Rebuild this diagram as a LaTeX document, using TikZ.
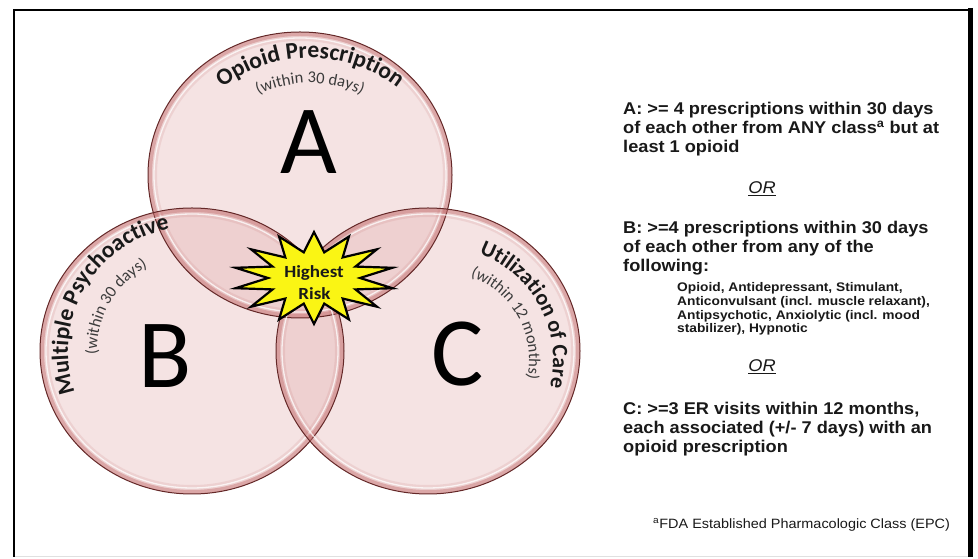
\documentclass[tikz,border=0pt]{standalone}
\usepackage{fontspec}
\setmainfont{Liberation Sans}
\newfontfamily\carl{Carlito}
\usetikzlibrary{shapes.geometric,decorations.text}

\definecolor{vfill}{RGB}{225,165,165}
\definecolor{vrim}{RGB}{195,110,110}
\definecolor{vline}{RGB}{100,40,40}
\definecolor{staryel}{RGB}{250,245,20}
\definecolor{txt}{RGB}{25,25,25}

\newcommand{\vtitle}{\carl\bfseries\fontsize{23.5}{24}\selectfont}
\newcommand{\vtitlec}{\carl\bfseries\fontsize{22}{24}\selectfont}
\newcommand{\vsub}{\carl\fontsize{16.5}{20}\selectfont}

\tikzset{
  rtxt/.style={anchor=base west, inner sep=0, text=txt, font=\bfseries\fontsize{17}{20}\selectfont, xscale=1.07},
  stxt/.style={anchor=base west, inner sep=0, text=txt, font=\bfseries\fontsize{12.5}{14}\selectfont, xscale=1.1},
  ortxt/.style={anchor=base, inner sep=0, text=txt, font=\itshape\fontsize{17}{20}\selectfont, xscale=1.07},
  bigletter/.style={inner sep=0, text=black, font=\carl\fontsize{98}{98}\selectfont},
  risk/.style={anchor=base, inner sep=0, text=txt, font=\carl\bfseries\fontsize{17}{17}\selectfont, xscale=1.12},
  arctitle/.style={decorate, decoration={text along path, text align=center, text color=txt}},
}

\begin{document}
\begin{tikzpicture}[x=1pt,y=1pt]
\useasboundingbox (0,0) rectangle (978,559);
\fill[white] (0,0) rectangle (978,559);

% frame
\draw[line width=1pt, black!12] (14,2) -- (970,2);
\draw[line width=2.5pt] (14,2) -- (14,549) -- (970,549);
\draw[line width=5pt] (970,551) -- (970,2);

% circle fills
\foreach \x/\y in {300/384, 192/208, 428/208}
  \fill[vfill, fill opacity=0.3] (\x,\y) ellipse[x radius=152pt, y radius=143pt];

% rims
\foreach \x/\y in {300/384, 192/208, 428/208}{
  \begin{scope}
    \clip (\x,\y) ellipse[x radius=152pt, y radius=143pt];
    \draw[vrim, line width=18pt, opacity=0.15] (\x,\y) ellipse[x radius=152pt, y radius=143pt];
    \draw[vrim, line width=8pt, opacity=0.42] (\x,\y) ellipse[x radius=152pt, y radius=143pt];
  \end{scope}
  \draw[white, line width=1.3pt, opacity=0.75] (\x,\y) ellipse[x radius=146pt, y radius=137pt];
  \draw[vline, line width=1pt] (\x,\y) ellipse[x radius=152pt, y radius=143pt];
}

% big letters
\node[bigletter] (lA) at (309,417) {A};
\node[bigletter] (lB) at (165,203) {B};
\node[bigletter] (lC) at (458,205) {C};

% curved titles
\path[arctitle, decoration={text={|\vtitle|Opioid Prescription}}]
  (186.2,429.5) arc[start angle=150, end angle=30, radius=143];
\path[arctitle, decoration={text={|\vsub\color{txt!85}|(within 30 days)}}]
  (207.8,417) arc[start angle=150, end angle=30, radius=118];

\path[arctitle, decoration={text={|\vtitle|Multiple Psychoactive}}]
  (90.4,136.9) arc[start angle=215, end angle=85, radius=124];
\path[arctitle, decoration={text={|\vsub\color{txt!85}|(within 30 days)}}]
  (114.2,153.5) arc[start angle=215, end angle=85, radius=95];

\path[arctitle, decoration={text={|\vtitlec|Utilization of Care}}]
  (463.5,309.5) arc[start angle=78, end angle=-22, radius=113];
\path[arctitle, decoration={text={|\vsub\color{txt!85}|(within 12 months)}}]
  (455.5,286.6) arc[start angle=80, end angle=-22, radius=89];

% highest risk burst
\node[star, star points=14, star point ratio=1.75, minimum size=92pt, inner sep=0,
      xscale=1.75, draw=black, line width=2.2pt, fill=staryel] (burst) at (314,281) {};
\node[risk] (hr1) at (314,281) {Highest};
\node[risk] (hr2) at (314.5,259) {Risk};

% right-hand text
\node[rtxt] (a1) at (623,444) {A: >= 4 prescriptions within 30 days};
\node[rtxt] (a2) at (623,425) {of each other from ANY class\textsuperscript{a} but at};
\node[rtxt] (a3) at (623,406) {least 1 opioid};
\node[ortxt] (or1) at (762,365) {\underline{OR}};
\node[rtxt] (b1) at (623,325) {B: >=4 prescriptions within 30 days};
\node[rtxt] (b2) at (623,306) {of each other from any of the};
\node[rtxt] (b3) at (623,287) {following:};
\node[stxt] (s1) at (677,267) {Opioid, Antidepressant, Stimulant,};
\node[stxt] (s2) at (677,253) {Anticonvulsant (incl. muscle relaxant),};
\node[stxt] (s3) at (677,239.5) {Antipsychotic, Anxiolytic (incl. mood};
\node[stxt] (s4) at (677,226) {stabilizer), Hypnotic};
\node[ortxt] (or2) at (762,187) {\underline{OR}};
\node[rtxt] (c1) at (623,144) {C: >=3 ER visits within 12 months,};
\node[rtxt] (c2) at (623,125) {each associated (+/- 7 days) with an};
\node[rtxt] (c3) at (623,106) {opioid prescription};
\node[anchor=base west, inner sep=0, text=txt, font=\fontsize{13.5}{16}\selectfont, xscale=1.07] (fn) at (653,30)
  {\textsuperscript{a}FDA Established Pharmacologic Class (EPC)};
\end{tikzpicture}
\end{document}
